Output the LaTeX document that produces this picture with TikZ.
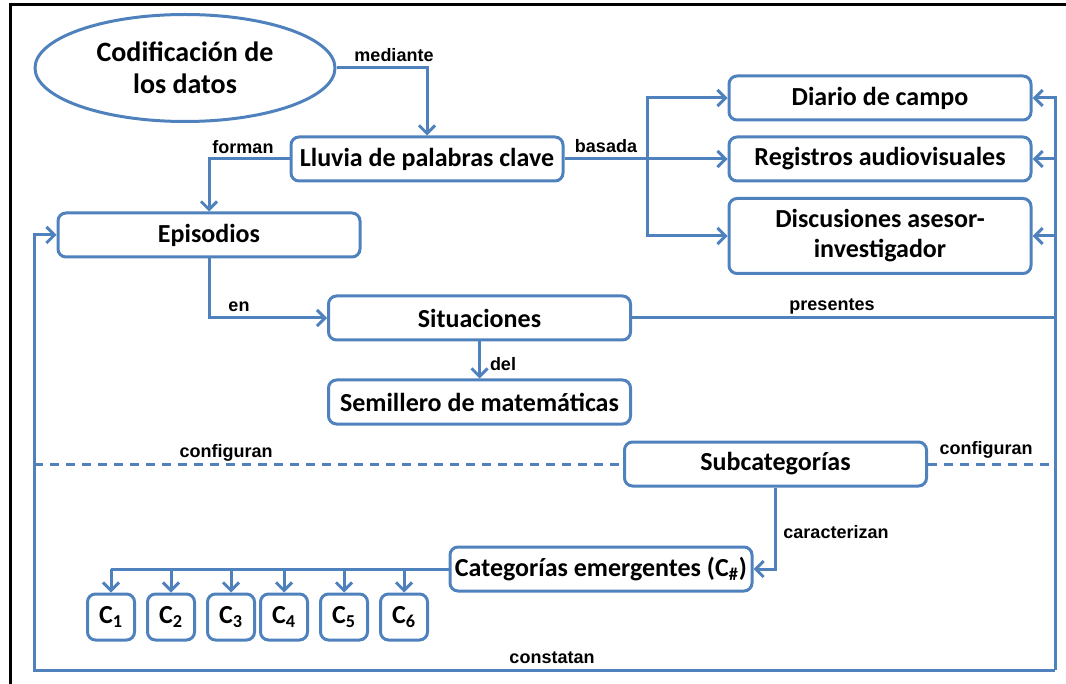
\documentclass[tikz,border=0pt]{standalone}
\usepackage{fontspec}
\setmainfont{Carlito}
\newfontfamily\labelfont{Liberation Sans}
\usepackage{tikz}
\definecolor{mapblue}{HTML}{4F81BD}
\usetikzlibrary{%
    shapes.geometric,
    arrows.meta,
    positioning,
}
\tikzset{%
    base/.style = {
        draw=mapblue,
        line width=1.5pt,
        text centered,
        align=center,
        font=\bfseries\fontsize{13}{15}\selectfont,
        inner sep=0pt,
    },
    box/.style = {
        base,
        rectangle,
        rounded corners=4pt,
        minimum width=151pt,
        minimum height=22pt,
    },
    tallbox/.style = {
        box,
        minimum height=37.5pt,
    },
    topic/.style = {
        base,
        ellipse,
        minimum width=150pt,
        minimum height=53.5pt,
        font=\bfseries\fontsize{14}{16}\selectfont,
    },
    catbox/.style = {
        box,
        minimum width=23.5pt,
        minimum height=23pt,
    },
    lbl/.style = {
        inner sep=0pt,
        font=\labelfont\bfseries\fontsize{9}{10}\selectfont,
    },
    link/.style = {
        draw=mapblue,
        line width=1.5pt,
    },
    arr/.style = {
        link,
        -{Straight Barb[length=4pt,width=8pt]},
    },
    cut/.style = {
        link,
        dash pattern=on 4.5pt off 3.5pt,
    },
}

\begin{document}
\begin{tikzpicture}[x=0.5pt,y=-0.5pt]
    \useasboundingbox (0,0) rectangle (1066,684);
    \draw [line width=1.5pt] (10,684) -- (10,5) -- (1066,5);

    \node [topic] (cod) at (185,68) {Codificación de\\los datos};
    \node [box, minimum width=136pt] (lluvia) at (427,159) {Lluvia de palabras clave};
    \node [box] (epis) at (209,235) {Episodios};
    \node [box] (diario) at (880,98) {Diario de campo};
    \node [box] (registros) at (880,159) {Registros audiovisuales};
    \node [tallbox] (discus) at (880,236) {Discusiones asesor-\\investigador};
    \node [box] (situ) at (479.5,318) {Situaciones};
    \node [box] (semi) at (479.5,402) {Semillero de matemáticas};
    \node [box] (subcat) at (775.5,464) {Subcategorías};
    \node [box] (categ) at (601,569) {Categorías emergentes (C\textsubscript{\#})};
    \foreach \i/\x in {1/111,2/171,3/231,4/284,5/344,6/404}
        \node [catbox] (c\i) at (\x,617) {C\textsubscript{\i}};

    \coordinate (br) at (647,159);
    \coordinate (rx) at (1055,670);
    \coordinate (lx) at (34,670);

    \draw [arr] (cod.east) -| (lluvia.north);
    \draw [arr] (lluvia.west) -| (epis.north);
    \draw [link] (lluvia.east) -- (br);
    \draw [arr] (br) |- (diario.west);
    \draw [arr] (br) -- (registros.west);
    \draw [arr] (br) |- (discus.west);
    \draw [arr] (epis.south) |- (situ.west);
    \draw [arr] (situ.south) -- (semi.north);
    \draw [link] (situ.east) -- (situ.east -| rx);
    \draw [arr] (rx) -- (diario.east -| rx) -- (diario.east);
    \draw [arr] (registros.east -| rx) -- (registros.east);
    \draw [arr] (discus.east -| rx) -- (discus.east);
    \draw [arr] (rx) -- (lx) |- (epis.west);
    \draw [cut] (subcat.west -| lx) -- (subcat.west);
    \draw [cut] (subcat.east) -- (subcat.east -| rx);
    \draw [arr] (subcat.south) |- (categ.east);
    \draw [link] (categ.west) -- (c1.north |- categ.west);
    \foreach \i in {1,...,6}
        \draw [arr] (c\i.north |- categ.west) -- (c\i.north);

    \node [lbl] (mediante) at (394,55) {mediante};
    \node [lbl] (forman) at (243,147) {forman};
    \node [lbl] (basada) at (606,146) {basada};
    \node [lbl] (en) at (239,307) {en};
    \node [lbl] (del) at (503,364) {del};
    \node [lbl] (presentes) at (832,306) {presentes};
    \node [lbl] (confleft) at (226,453) {configuran};
    \node [lbl] (confright) at (986,450) {configuran};
    \node [lbl] (caract) at (836,532) {caracterizan};
    \node [lbl] (constatan) at (552,658) {constatan};
\end{tikzpicture}
\end{document}
